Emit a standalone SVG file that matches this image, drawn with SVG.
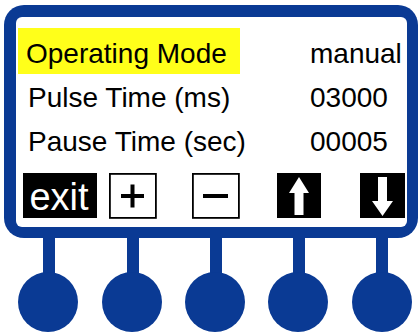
<svg xmlns="http://www.w3.org/2000/svg" width="420" height="333" viewBox="0 0 420 333">
<style>
.blue{fill:#0a3a94}
.lbl{font-family:"Liberation Sans",Arial,sans-serif;font-size:28px;fill:#000}
.btn{fill:#000}
.btnw{fill:#fff;stroke:#000;stroke-width:1.8}
</style>
<rect width="420" height="333" fill="#fff"/>
<g id="connectors">
<rect class="blue" x="43" y="230" width="12" height="50"/>
<rect class="blue" x="127" y="230" width="12" height="50"/>
<rect class="blue" x="210" y="230" width="12" height="50"/>
<rect class="blue" x="293" y="230" width="12" height="50"/>
<rect class="blue" x="376" y="230" width="12" height="50"/>
</g>
<g id="panel">
<rect x="4" y="5" width="414" height="233" rx="20" class="blue"/>
<rect x="16" y="17" width="391" height="210" rx="6" fill="#fff"/>
</g>
<g id="row1">
<rect x="18" y="28" width="222" height="46" fill="#ffff1a"/>
<text class="lbl" x="26" y="63">Operating Mode</text>
<text class="lbl" x="310" y="63">manual</text>
</g>
<g id="row2">
<text class="lbl" x="28" y="107">Pulse Time (ms)</text>
<text class="lbl" x="310" y="107">03000</text>
</g>
<g id="row3">
<text class="lbl" x="28" y="151">Pause Time (sec)</text>
<text class="lbl" x="310" y="151">00005</text>
</g>
<g id="btn-exit">
<rect class="btn" x="23" y="173" width="74" height="45"/>
<text x="59" y="210" text-anchor="middle" font-family="Liberation Sans,Arial,sans-serif" font-size="38" fill="#fff">exit</text>
</g>
<g id="btn-plus">
<rect class="btnw" x="109.9" y="173.9" width="46" height="44"/>
<rect x="121" y="194" width="23" height="4" fill="#000"/>
<rect x="130.5" y="184.5" width="4" height="23" fill="#000"/>
</g>
<g id="btn-minus">
<rect class="btnw" x="192.9" y="173.9" width="46" height="44"/>
<rect x="203" y="194" width="25" height="4" fill="#000"/>
</g>
<g id="btn-up">
<rect class="btn" x="277" y="173" width="44" height="45"/>
<polygon points="299,177 309,193 303.5,193 303.5,215 294.5,215 294.5,193 289,193" fill="#fff"/>
</g>
<g id="btn-down">
<rect class="btn" x="360" y="173" width="45" height="45"/>
<polygon points="382.5,216 393,201 387,201 387,177 378,177 378,201 372,201" fill="#fff"/>
</g>
<g id="knob1"><circle class="blue" cx="48" cy="302" r="30"/></g>
<g id="knob2"><circle class="blue" cx="132" cy="302" r="30"/></g>
<g id="knob3"><circle class="blue" cx="215" cy="302" r="30"/></g>
<g id="knob4"><circle class="blue" cx="298" cy="302" r="30"/></g>
<g id="knob5"><circle class="blue" cx="382" cy="302" r="30"/></g>
</svg>
